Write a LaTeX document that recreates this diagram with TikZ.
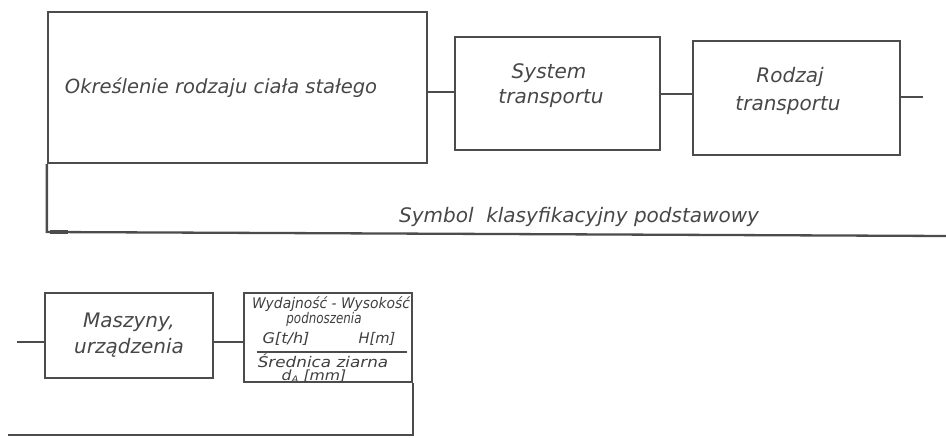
\documentclass[tikz,border=0pt]{standalone}
\usepackage{fontspec}
\usepackage{graphicx}
\setsansfont{DejaVu Sans}
\begin{document}
\begin{tikzpicture}[x=1pt,y=-1pt,
  ink/.style={draw=black!70,line width=2.3pt},
  box/.style={ink,rectangle,inner sep=0pt,font=\sffamily\itshape\fontsize{20}{26}\selectfont,text=black!72,align=center},
  big/.style={font=\sffamily\itshape\fontsize{20}{26}\selectfont,text=black!72,inner sep=0pt},
  small/.style={font=\sffamily\itshape\fontsize{14}{14}\selectfont,text=black!75,inner sep=0pt}]
\useasboundingbox (0,0) rectangle (946,438);
% upper row
\node[box,minimum width=379pt,minimum height=151pt] (b1) at (237.5,87.5) {};
\node[big,font=\sffamily\itshape\fontsize{19.5}{26}\selectfont] (t0) at (221,88) {Określenie rodzaju ciała stałego};
\node[box,minimum width=205pt,minimum height=113pt] (sys) at (557.5,93.5) {};
\node[big] (s1) at (549,73) {System};
\node[big] (s2) at (551,99) {transportu};
\node[box,minimum width=207pt,minimum height=114pt] (rod) at (796.5,98) {};
\node[big] (r1) at (790,77) {Rodzaj};
\node[big] (r2) at (788,106) {transportu};
\coordinate (rend) at (923,97);
\draw[ink] (b1.east |- 0,92) -- (sys.west |- 0,92);
\draw[ink] (sys.east |- 0,94) -- (rod.west |- 0,94);
\draw[ink] (rod.east |- rend) -- (rend);
\coordinate (c1) at (b1.south west |- 0,232);
\coordinate (c2) at (946,236);
\draw[ink] (b1.south west) -- (c1) -- (c2);
\draw[draw=black!70,line width=4pt] (50,232) -- (68,232);
\node[big] (lab) at (579,217) {Symbol\ \ klasyfikacyjny podstawowy};
% lower row
\node[box,minimum width=168pt,minimum height=85pt] (mas) at (129,335.5) {Maszyny,\\urządzenia};
\node[ink,rectangle,minimum width=168pt,minimum height=89pt,inner sep=0pt] (wyd) at (328,337.5) {};
\coordinate (lstart) at (17,342);
\draw[ink] (lstart) -- (mas.west |- lstart);
\draw[ink] (mas.east |- lstart) -- (wyd.west |- lstart);
\coordinate (d1) at (wyd.south east |- 0,435);
\coordinate (d2) at (8,435);
\draw[ink] (wyd.south east) -- (d1) -- (d2);
\node[small] (t1) at (331,304) {\scalebox{0.99}[1.05]{Wydajność - Wysokość}};
\node[small] (t2) at (324,319) {\scalebox{0.85}[1.05]{podnoszenia}};
\node[small] (t3a) at (286,339) {\scalebox{1.15}[1.05]{G[t/h]}};
\node[small] (t3b) at (377,339) {\scalebox{1.05}[1.05]{H[m]}};
\node[small] (t4) at (323,361) {\scalebox{1.2}[1.05]{Średnica ziarna}};
\node[small] (t5) at (314,376) {\scalebox{1.12}[1.0]{d\raisebox{-2pt}{\fontsize{9}{9}\selectfont A} [mm]}};
\draw[draw=black!70,line width=1.6pt] (257,352) -- (407,352);
\end{tikzpicture}
\end{document}
